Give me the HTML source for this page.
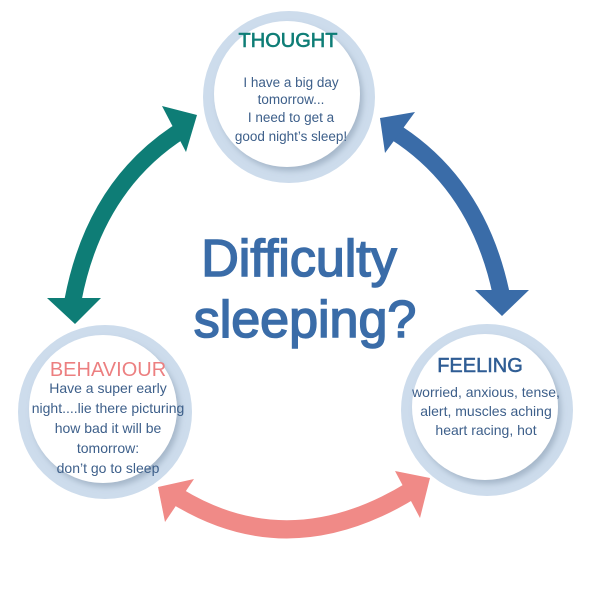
<!DOCTYPE html>
<html><head><meta charset="utf-8"><style>
html,body{margin:0;padding:0;background:#fff}
svg{display:block}
text{font-family:"Liberation Sans",sans-serif}
</style></head><body>
<svg width="600" height="600" viewBox="0 0 600 600" xmlns="http://www.w3.org/2000/svg">
<defs>
<filter id="sh" x="-20%" y="-20%" width="140%" height="140%">
<feDropShadow dx="3" dy="4" stdDeviation="3" flood-color="#7f93a8" flood-opacity="0.5"/>
</filter>
</defs>

<circle cx="289" cy="97" r="86" fill="#cddcec"/>
<circle cx="287" cy="94" r="73" fill="#fff" filter="url(#sh)"/>
<circle cx="105" cy="412" r="87" fill="#cddcec"/>
<circle cx="103" cy="409" r="74" fill="#fff" filter="url(#sh)"/>
<circle cx="487" cy="410" r="86" fill="#cddcec"/>
<circle cx="485" cy="407" r="73" fill="#fff" filter="url(#sh)"/>

<path d="M182 130 Q95 185 73 300" fill="none" stroke="#0e7d76" stroke-width="17"/>
<polygon points="197,115 162,106 186,152" fill="#0e7d76"/>
<polygon points="75,324 47,298 101,298" fill="#0e7d76"/>

<path d="M395 132 Q478 185 501 293" fill="none" stroke="#3a6ca8" stroke-width="17"/>
<polygon points="380,118 415,112 385,153" fill="#3a6ca8"/>
<polygon points="502,316 475,290 529,290" fill="#3a6ca8"/>

<path d="M178 497 Q290 565 412 490" fill="none" stroke="#f08a87" stroke-width="18"/>
<polygon points="158,487 194,479 165,522" fill="#f08a87"/>
<polygon points="430,478 395,471 420,518" fill="#f08a87"/>

<g fill="#3a6ca8" stroke="#3a6ca8" stroke-width="1.6" text-anchor="middle" font-size="52">
<text x="299" y="276">Difficulty</text>
<text x="305" y="337">sleeping?</text>
</g>

<text x="288" y="47" text-anchor="middle" font-size="20" fill="#0e7d76" stroke="#0e7d76" stroke-width="0.6">THOUGHT</text>
<g fill="#3d5f8a" font-size="13.5" text-anchor="middle">
<text x="291" y="87">I have a big day</text>
<text x="291" y="104">tomorrow...</text>
<text x="291" y="122">I need to get a</text>
<text x="291" y="141">good night’s sleep!</text>
</g>

<text x="108" y="376" text-anchor="middle" font-size="20" fill="#ec7f80">BEHAVIOUR</text>
<g fill="#3d5f8a" font-size="14" text-anchor="middle">
<text x="108" y="393">Have a super early</text>
<text x="108" y="413">night....lie there picturing</text>
<text x="108" y="433">how bad it will be</text>
<text x="108" y="453">tomorrow:</text>
<text x="108" y="473">don’t go to sleep</text>
</g>

<text x="480" y="372" text-anchor="middle" font-size="20" fill="#2f5d94" stroke="#2f5d94" stroke-width="0.5">FEELING</text>
<g fill="#3d5f8a" font-size="14" text-anchor="middle">
<text x="486" y="397">worried, anxious, tense,</text>
<text x="486" y="416">alert, muscles aching</text>
<text x="486" y="435">heart racing, hot</text>
</g>
</svg>
</body></html>
